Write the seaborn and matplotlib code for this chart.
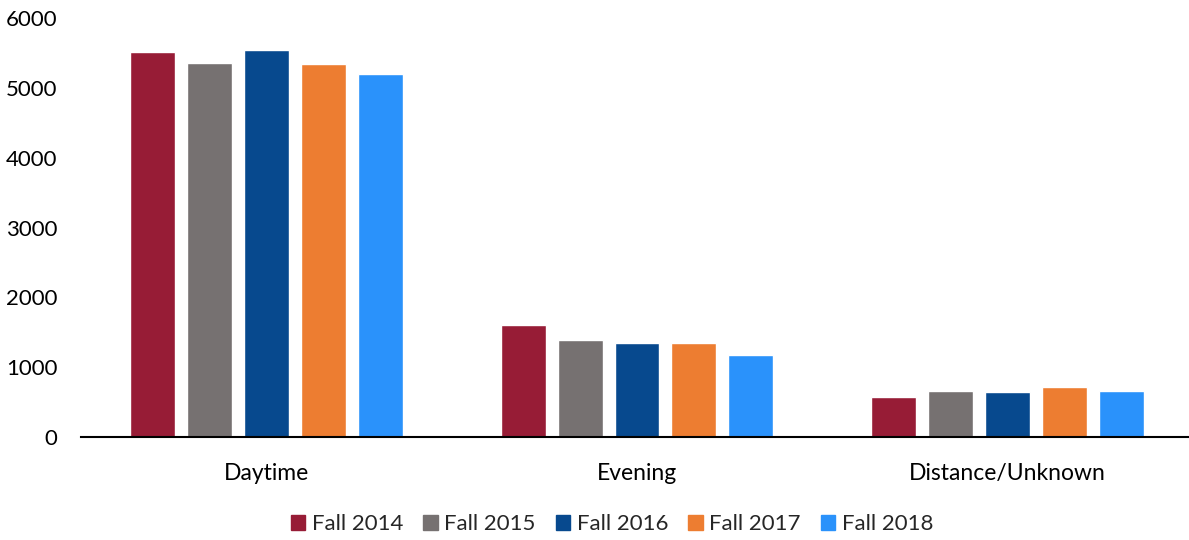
import pandas as pd
import matplotlib
matplotlib.use("Agg")
import matplotlib.pyplot as plt
import seaborn as sns

# Data
categories = ['Daytime', 'Evening', 'Distance/Unknown']
terms = ['Fall 2014', 'Fall 2015', 'Fall 2016', 'Fall 2017', 'Fall 2018']
fall_2014 = [5510, 1605, 575]
fall_2015 = [5358, 1395, 655]
fall_2016 = [5540, 1342, 642]
fall_2017 = [5338, 1346, 712]
fall_2018 = [5196, 1170, 655]
colors = ['#971C36', '#767171', '#07498E', '#ED7D31', '#2A92FB']

series = [fall_2014, fall_2015, fall_2016, fall_2017, fall_2018]
rows = []
for term, vals in zip(terms, series):
    for cat, v in zip(categories, vals):
        rows.append({'category': cat, 'term': term, 'count': v})
df = pd.DataFrame(rows)

sns.set_style('white')
plt.rcParams['font.family'] = ['Lato', 'DejaVu Sans']

fig = plt.figure(figsize=(11.89, 5.40), dpi=100)
ax = fig.add_axes([81 / 1189, 103 / 540, 1112 / 1189, 419 / 540])

sns.barplot(data=df, x='category', y='count', hue='term', order=categories,
            hue_order=terms, palette=colors, width=0.768, gap=0.21,
            saturation=1, ax=ax, legend=False)

ax.set_xlim(-0.5, 2.5)
ax.set_ylim(0, 6000)
ax.set_yticks(range(0, 6001, 1000))
ax.set_xlabel('')
ax.set_ylabel('')

for side in ['top', 'right', 'left']:
    ax.spines[side].set_visible(False)
ax.spines['bottom'].set_color('black')
ax.spines['bottom'].set_linewidth(1.5)

# category labels at centers, tick marks at the boundaries
ax.set_xticks([0, 1, 2])
ax.set_xticklabels(categories)
ax.set_xticks([-0.5, 0.5, 1.5, 2.5], minor=True)
ax.tick_params(axis='x', which='major', length=0, pad=19, labelsize=16.5, colors='black')
ax.tick_params(axis='x', which='minor', length=7, width=1.5, color='black', direction='out')
ax.tick_params(axis='y', length=0, pad=17, labelsize=16, colors='black')

handles = [plt.Rectangle((0, 0), 1, 1, color=c) for c in colors]
fig.legend(handles, terms, loc='center', bbox_to_anchor=(612 / 1189, 1 - 524 / 540),
           ncol=5, frameon=False, fontsize=16, handlelength=0.65, handleheight=0.65,
           handletextpad=0.3, columnspacing=0.9)

fig.savefig('out.png', dpi=100)
